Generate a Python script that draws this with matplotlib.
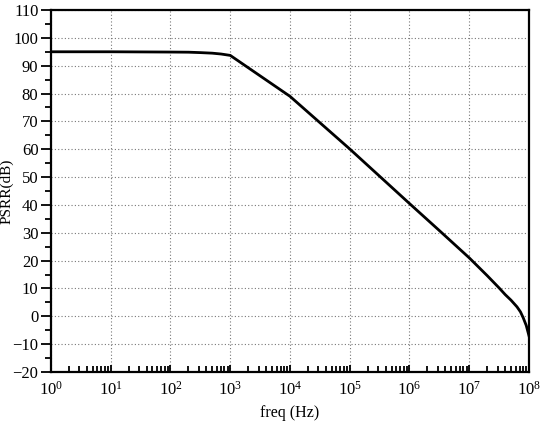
import matplotlib
matplotlib.use("Agg")
import matplotlib.pyplot as plt
from matplotlib.ticker import LogLocator, MultipleLocator, FixedLocator, NullFormatter

plt.rcParams['font.family'] = ['Liberation Serif', 'DejaVu Serif']

freq = [1, 10, 100, 200, 316, 500, 700, 1000, 1e4, 1e5, 1e6, 3.16e6, 1e7,
        2e7, 3.16e7, 4e7, 5e7, 6.3e7, 7.2e7, 8e7, 9e7, 1e8]
psrr = [95.0, 95.0, 94.9, 94.85, 94.7, 94.5, 94.2, 93.7, 79.0, 60.1, 40.5, 30.8, 21.0,
        14.6, 10.2, 7.8, 5.8, 3.4, 1.6, -0.5, -3.3, -7.0]

yticks = list(range(-20, 111, 10))
xticks = [10.0 ** k for k in range(0, 9)]

fig = plt.figure(figsize=(5.5, 4.24), dpi=100)
ax = fig.add_axes([0.0927, 0.1226, 0.8691, 0.8538])

ax.plot(freq, psrr, color='black', linewidth=2.0, solid_joinstyle='round')

ax.set_xscale('log')
ax.set_xlim(1, 1e8)
ax.set_ylim(-20, 110)
ax.xaxis.set_major_locator(FixedLocator(xticks))
ax.xaxis.set_minor_locator(LogLocator(base=10, subs=range(2, 10), numticks=100))
ax.xaxis.set_minor_formatter(NullFormatter())
ax.yaxis.set_major_locator(FixedLocator(yticks))
ax.yaxis.set_minor_locator(MultipleLocator(5))

ax.grid(True, which='major', linestyle=(0, (1, 2)), color='#777777', linewidth=0.8)

ax.tick_params(axis='y', which='major', direction='out', length=7, width=1.3, labelsize=12, pad=2)
ax.tick_params(axis='y', which='minor', direction='out', length=4, width=1.3)
ax.tick_params(axis='x', which='major', direction='in', length=5, width=1.3, labelsize=12, pad=6)
ax.tick_params(axis='x', which='minor', direction='in', length=4, width=1.3)

for s in ax.spines.values():
    s.set_linewidth(1.6)

ax.set_xlabel('freq (Hz)', fontsize=11.5, labelpad=5)
ax.set_ylabel('PSRR(dB)', fontsize=11)
ax.yaxis.set_label_coords(-0.078, 0.5)

fig.savefig('out.png', dpi=100)
